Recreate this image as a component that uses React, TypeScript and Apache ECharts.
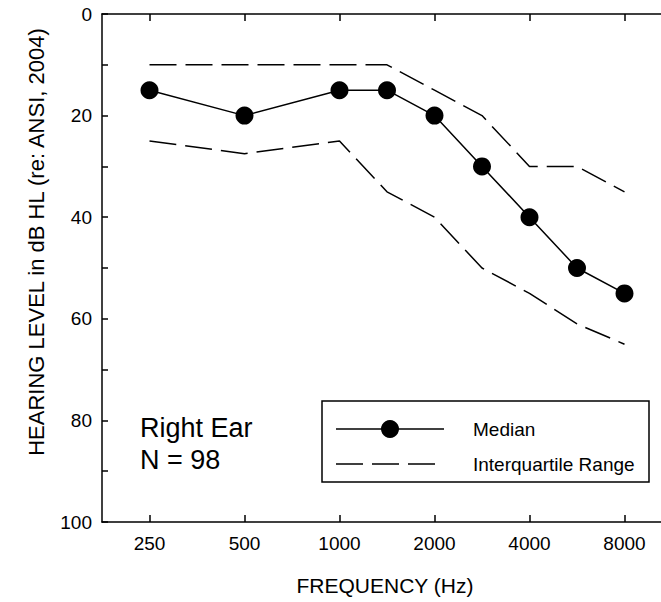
import React, { useEffect, useRef } from "react";
import * as echarts from "echarts";

const frequencies = [250, 500, 1000, 1500, 2000, 3000, 4000, 6000, 8000];
const medianDb = [15, 20, 15, 15, 20, 30, 40, 50, 55];
const upperQuartileDb = [10, 10, 10, 10, 15, 20, 30, 30, 35];
const lowerQuartileDb = [25, 27.5, 25, 35, 40, 50, 55, 61, 65];
const octaveTickLabels = ["250", "500", "1000", "2000", "4000", "8000"];
const yTickLabels = [0, 20, 40, 60, 80, 100];

const FONT = "'Liberation Sans', Arial, sans-serif";

// audiogram convention: inter-octave frequencies sit at half-octave positions
const octPos = (f: number) => Math.round(2 * Math.log2(f / 250)) / 2;
const toPoints = (vals: number[]) => frequencies.map((f, i) => [octPos(f), vals[i]]);

export default function App() {
  const ref = useRef<HTMLDivElement>(null);
  useEffect(() => {
    if (!ref.current) return;
    const chart = echarts.init(ref.current, null, { renderer: "svg" });
    const tickIdx = octaveTickLabels.map((_, i) => i);
    const axisLineStyle = { color: "#000", width: 1.5 };
    const option: any = {
      animation: false,
      backgroundColor: "#fff",
      grid: { left: 102, top: 14, right: 28, bottom: 80, containLabel: false },
      xAxis: [
        {
          type: "value",
          position: "bottom",
          min: -0.5,
          max: 5.5,
          axisLine: { show: true, onZero: false, lineStyle: axisLineStyle },
          axisTick: { show: true, inside: true, length: 7, customValues: tickIdx, lineStyle: { color: "#000", width: 1.5 } },
          axisLabel: {
            show: true,
            customValues: tickIdx,
            formatter: (v: number) => octaveTickLabels[Math.round(v)] ?? "",
            color: "#000",
            fontSize: 19,
            fontFamily: FONT,
            margin: 12,
          },
          splitLine: { show: false },
        },
        {
          type: "value",
          position: "top",
          min: -0.5,
          max: 5.5,
          axisLine: { show: true, onZero: false, lineStyle: axisLineStyle },
          axisTick: { show: true, inside: true, length: 7, customValues: tickIdx, lineStyle: { color: "#000", width: 1.5 } },
          axisLabel: { show: false },
          splitLine: { show: false },
        },
      ],
      yAxis: [
        {
          type: "value",
          position: "left",
          inverse: true,
          min: 0,
          max: 100,
          interval: 10,
          axisLine: { show: true, onZero: false, lineStyle: axisLineStyle },
          axisTick: { show: true, inside: true, length: 6, lineStyle: { color: "#000", width: 1.5 } },
          axisLabel: {
            color: "#000",
            fontSize: 19,
            fontFamily: FONT,
            margin: 10,
            formatter: (v: number) => (yTickLabels.includes(v) ? String(v) : ""),
          },
          splitLine: { show: false },
        },
        {
          type: "value",
          inverse: true,
          position: "right",
          min: 0,
          max: 100,
          interval: 10,
          axisLine: { show: true, onZero: false, lineStyle: axisLineStyle },
          axisTick: { show: true, inside: true, length: 6 },
          axisLabel: { show: false },
          splitLine: { show: false },
        },
      ],
      series: [
        {
          name: "Interquartile Upper",
          type: "line",
          data: toPoints(upperQuartileDb),
          showSymbol: false,
          symbol: "none",
          lineStyle: { color: "#000", width: 1.5, type: [27, 9] },
          z: 2,
        },
        {
          name: "Interquartile Lower",
          type: "line",
          data: toPoints(lowerQuartileDb),
          showSymbol: false,
          symbol: "none",
          lineStyle: { color: "#000", width: 1.5, type: [27, 9] },
          z: 2,
        },
        {
          name: "Median",
          type: "line",
          data: toPoints(medianDb),
          symbol: "circle",
          symbolSize: 18,
          itemStyle: { color: "#000" },
          lineStyle: { color: "#000", width: 1.5 },
          z: 3,
        },
      ],
      graphic: [
        {
          type: "text",
          x: 36,
          y: 242,
          rotation: Math.PI / 2,
          style: {
            text: "HEARING LEVEL in dB HL (re: ANSI, 2004)",
            fontSize: 22,
            fontFamily: FONT,
            fill: "#000",
            align: "center",
            verticalAlign: "middle",
          },
        },
        {
          type: "text",
          x: 385,
          y: 585,
          style: {
            text: "FREQUENCY (Hz)",
            fontSize: 21,
            fontFamily: FONT,
            fill: "#000",
            align: "center",
            verticalAlign: "middle",
          },
        },
        {
          type: "text",
          x: 140,
          y: 428,
          style: { text: "Right Ear", fontSize: 27, fontFamily: FONT, fill: "#000", align: "left", verticalAlign: "middle" },
        },
        {
          type: "text",
          x: 140,
          y: 460,
          style: { text: "N = 98", fontSize: 27, fontFamily: FONT, fill: "#000", align: "left", verticalAlign: "middle" },
        },
        {
          type: "rect",
          shape: { x: 322, y: 401, width: 327, height: 81 },
          style: { fill: "#fff", stroke: "#000", lineWidth: 1.5 },
          z: 10,
        },
        {
          type: "line",
          shape: { x1: 336, y1: 429, x2: 444, y2: 429 },
          style: { stroke: "#000", lineWidth: 1.5 },
          z: 11,
        },
        {
          type: "circle",
          shape: { cx: 390, cy: 429, r: 9 },
          style: { fill: "#000" },
          z: 12,
        },
        {
          type: "line",
          shape: { x1: 336, y1: 464, x2: 437, y2: 464 },
          style: { stroke: "#000", lineWidth: 1.5, lineDash: [27, 9] },
          z: 11,
        },
        {
          type: "text",
          x: 473,
          y: 429,
          style: { text: "Median", fontSize: 19, fontFamily: FONT, fill: "#000", align: "left", verticalAlign: "middle" },
          z: 11,
        },
        {
          type: "text",
          x: 473,
          y: 464,
          style: { text: "Interquartile Range", fontSize: 19, fontFamily: FONT, fill: "#000", align: "left", verticalAlign: "middle" },
          z: 11,
        },
      ],
    };
    chart.setOption(option);
    return () => chart.dispose();
  }, []);
  return (
    <div
      ref={ref}
      style={{ position: "fixed", left: 0, top: 0, width: 700, height: 602, background: "#fff" }}
    />
  );
}
